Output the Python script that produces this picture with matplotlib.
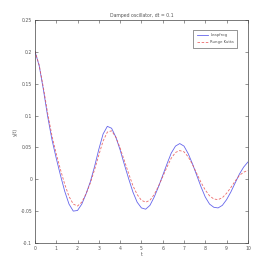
import numpy as np
import matplotlib
matplotlib.use('Agg')
import matplotlib.pyplot as plt

t = np.arange(0, 10.01, 0.2)

leapfrog = [0.201, 0.178, 0.140, 0.098, 0.062, 0.033, 0.006, -0.019, -0.039, -0.050,
            -0.049, -0.039, -0.023, -0.004, 0.020, 0.047, 0.071, 0.083, 0.080, 0.066,
            0.046, 0.023, 0.001, -0.020, -0.036, -0.045, -0.047, -0.041, -0.028, -0.012,
            0.006, 0.024, 0.041, 0.052, 0.056, 0.052, 0.040, 0.024, 0.006, -0.012,
            -0.028, -0.039, -0.044, -0.045, -0.041, -0.032, -0.020, -0.006, 0.008, 0.019,
            0.027]

other = [0.201, 0.179, 0.143, 0.103, 0.068, 0.040, 0.015, -0.008, -0.027, -0.039,
         -0.042, -0.036, -0.023, -0.006, 0.015, 0.038, 0.060, 0.074, 0.076, 0.066,
         0.049, 0.029, 0.009, -0.010, -0.024, -0.033, -0.036, -0.033, -0.024, -0.011,
         0.004, 0.019, 0.033, 0.042, 0.045, 0.043, 0.035, 0.023, 0.009, -0.005,
         -0.017, -0.026, -0.031, -0.032, -0.029, -0.022, -0.013, -0.003, 0.006, 0.011,
         0.014]

labels = ['Leapfrog', 'Runge Kutta']
xticks = np.arange(0, 11, 1)
yticks = [-0.1, -0.05, 0, 0.05, 0.1, 0.15, 0.2, 0.25]
ytick_labels = ['-0.1', '-0.05', '0', '0.05', '0.1', '0.15', '0.2', '0.25']

txt = '#555555'

fig = plt.figure(figsize=(2.73, 2.73), dpi=100)
ax = fig.add_axes([0.128, 0.110, 0.780, 0.817])

ax.plot(t, leapfrog, color='#4a4ae8', lw=0.6, ls='-', alpha=0.85, label=labels[0])
ax.plot(t, other, color='#e85050', lw=0.6, ls='--', dashes=(3, 2), alpha=0.85, label=labels[1])

ax.set_xlim(0, 10)
ax.set_ylim(-0.1, 0.25)
ax.set_xticks(xticks)
ax.set_yticks(yticks)
ax.set_xticklabels([str(v) for v in xticks])
ax.set_yticklabels(ytick_labels)
ax.tick_params(direction='in', length=2, width=0.4, labelsize=3.3, labelcolor=txt,
               top=True, right=True, pad=2, color='#444444')
for s in ax.spines.values():
    s.set_linewidth(0.5)
    s.set_color('#444444')

ax.set_xlabel('t', fontsize=3.3, labelpad=1, color=txt)
ax.set_ylabel('y(t)', fontsize=3.3, labelpad=2, color=txt)
ax.set_title('Damped oscillator, dt = 0.1', fontsize=3.3, pad=2, color=txt)

leg = ax.legend(loc='upper right', fontsize=2.8, fancybox=False, edgecolor='#444444',
                framealpha=1, handlelength=2.8, handletextpad=0.6, borderpad=0.9,
                labelspacing=0.8, bbox_to_anchor=(0.96, 0.965))
leg.get_frame().set_linewidth(0.4)
for tx in leg.get_texts():
    tx.set_color(txt)

plt.savefig('out.png', dpi=100)
